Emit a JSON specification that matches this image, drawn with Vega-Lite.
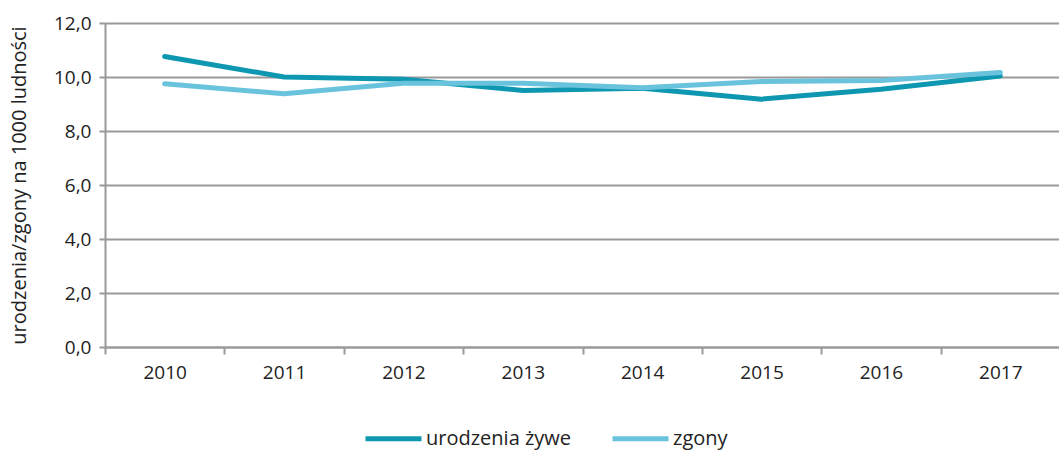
{
  "$schema": "https://vega.github.io/schema/vega-lite/v6.json",
  "width": 955,
  "height": 324,
  "autosize": {"type": "none"},
  "padding": {"left": 105, "top": 23, "right": 0, "bottom": 105},
  "background": "white",
  "config": {
    "font": "Open Sans, sans-serif",
    "view": {"stroke": null}
  },
  "data": {
    "values": [
      {"rok": "2010", "seria": "urodzenia żywe", "v": 10.76},
      {"rok": "2011", "seria": "urodzenia żywe", "v": 10.0},
      {"rok": "2012", "seria": "urodzenia żywe", "v": 9.92},
      {"rok": "2013", "seria": "urodzenia żywe", "v": 9.5},
      {"rok": "2014", "seria": "urodzenia żywe", "v": 9.58},
      {"rok": "2015", "seria": "urodzenia żywe", "v": 9.18},
      {"rok": "2016", "seria": "urodzenia żywe", "v": 9.55},
      {"rok": "2017", "seria": "urodzenia żywe", "v": 10.04},
      {"rok": "2010", "seria": "zgony", "v": 9.75},
      {"rok": "2011", "seria": "zgony", "v": 9.38},
      {"rok": "2012", "seria": "zgony", "v": 9.77},
      {"rok": "2013", "seria": "zgony", "v": 9.77},
      {"rok": "2014", "seria": "zgony", "v": 9.6},
      {"rok": "2015", "seria": "zgony", "v": 9.83},
      {"rok": "2016", "seria": "zgony", "v": 9.87},
      {"rok": "2017", "seria": "zgony", "v": 10.17}
    ]
  },
  "mark": {"type": "line", "strokeWidth": 5, "strokeCap": "round", "strokeJoin": "round"},
  "encoding": {
    "x": {
      "field": "rok", "type": "ordinal",
      "scale": {"type": "band", "paddingInner": 0, "paddingOuter": 0},
      "axis": {
        "title": null, "labelAngle": 0, "labelFontSize": 19, "labelColor": "#222",
        "tickBand": "extent", "tickSize": 7, "tickColor": "#999", "tickWidth": 2,
        "domainColor": "#999", "domainWidth": 2, "labelPadding": 9, "grid": false
      }
    },
    "y": {
      "field": "v", "type": "quantitative",
      "scale": {"domain": [0, 12]},
      "axis": {
        "values": [0, 2, 4, 6, 8, 10, 12],
        "format": ".1f",
        "labelExpr": "replace(datum.label, '.', ',')",
        "title": "urodzenia/zgony na 1000 ludności",
        "titleFontSize": 20, "titleFontWeight": "normal", "titleColor": "#222", "titlePadding": 24,
        "labelFontSize": 19, "labelColor": "#222", "labelPadding": 8,
        "tickSize": 6, "tickColor": "#999", "tickWidth": 2,
        "domainColor": "#999", "domainWidth": 2,
        "grid": true, "gridColor": "#999", "gridWidth": 2
      }
    },
    "color": {
      "field": "seria", "type": "nominal",
      "scale": {"domain": ["urodzenia żywe", "zgony"], "range": ["#0e97b1", "#6ac3dd"]},
      "legend": {
        "title": null, "orient": "none", "direction": "horizontal",
        "legendX": 258, "legendY": 385,
        "symbolType": "stroke", "symbolStrokeWidth": 5, "symbolSize": 3136,
        "labelFontSize": 20, "labelColor": "#222", "columnPadding": 30, "labelOffset": 2
      }
    }
  }
}
